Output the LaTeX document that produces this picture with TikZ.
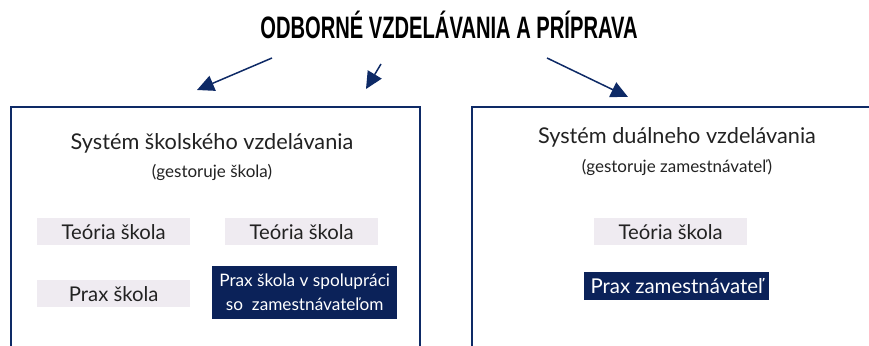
\documentclass[tikz,border=0pt]{standalone}
\usepackage{fontspec}
\setmainfont{Lato}
\newfontfamily\titlefont{Liberation Sans}
\usetikzlibrary{arrows.meta}
\definecolor{navy}{HTML}{0E2A66}
\definecolor{navyfill}{HTML}{0B2259}
\definecolor{lightfill}{HTML}{EFEBF1}
\definecolor{txt}{HTML}{222222}
\tikzset{
  frame/.style={draw=navy, line width=2pt, anchor=north west, inner sep=0pt},
  head/.style={text=txt, font=\fontsize{21.7}{26}\selectfont, inner sep=0pt},
  sub/.style={text=txt, font=\fontsize{17}{20}\selectfont, inner sep=0pt},
  lightbox/.style={fill=lightfill, text=txt, font=\fontsize{20.3}{24}\selectfont, inner sep=0pt, anchor=north west},
  darkbox/.style={fill=navyfill, text=white, inner sep=0pt, anchor=north west, align=center},
  arr/.style={draw=navy, line width=1.5pt, -{Triangle[length=17pt,width=16pt]}}
}
\begin{document}
\begin{tikzpicture}[x=1pt,y=-1pt]
\useasboundingbox (0,0) rectangle (869,345);
\clip (0,0) rectangle (869,345);
% title
\node[inner sep=0pt] (title) at (449,25) {\scalebox{0.65}[1]{\titlefont\bfseries\fontsize{31}{33}\selectfont ODBORNÉ VZDELÁVANIA A PRÍPRAVA}};
% frames
\node[frame, minimum width=409pt, minimum height=280pt] (L) at (10,106) {};
\node[frame, minimum width=420pt, minimum height=280pt] (R) at (471,106) {};
% arrows
\coordinate (a1s) at (272,58); \coordinate (a1e) at (197,90);
\coordinate (a2s) at (381,64); \coordinate (a2e) at (366,89);
\coordinate (a3s) at (547,58); \coordinate (a3e) at (628,97);
\draw[arr] (a1s) -- (a1e);
\draw[arr] (a2s) -- (a2e);
\draw[arr] (a3s) -- (a3e);
% left content
\node[head] (lh) at (212,143) {Systém školského vzdelávania};
\node[sub] (ls) at (212,172) {(gestoruje škola)};
\node[lightbox, minimum width=153pt, minimum height=27pt] (lt1) at (37,218) {Teória škola};
\node[lightbox, minimum width=153pt, minimum height=27pt] (lt2) at (225,218) {Teória škola};
\node[lightbox, minimum width=153pt, minimum height=27pt] (lp) at (37,280) {Prax škola};
\node[darkbox, minimum width=185pt, minimum height=53pt, font=\fontsize{17.2}{24}\selectfont] (lpz) at (212,266) {Prax škola v spolupráci\\so\ \ zamestnávateľom};
% right content
\node[head] (rh) at (677,137) {Systém duálneho vzdelávania};
\node[sub] (rs) at (677,167) {(gestoruje zamestnávateľ)};
\node[lightbox, minimum width=153pt, minimum height=27pt] (rt) at (594,218) {Teória škola};
\node[darkbox, minimum width=185pt, minimum height=28pt, font=\fontsize{20.4}{24}\selectfont] (rp) at (584,272) {Prax zamestnávateľ};
\end{tikzpicture}
\end{document}
